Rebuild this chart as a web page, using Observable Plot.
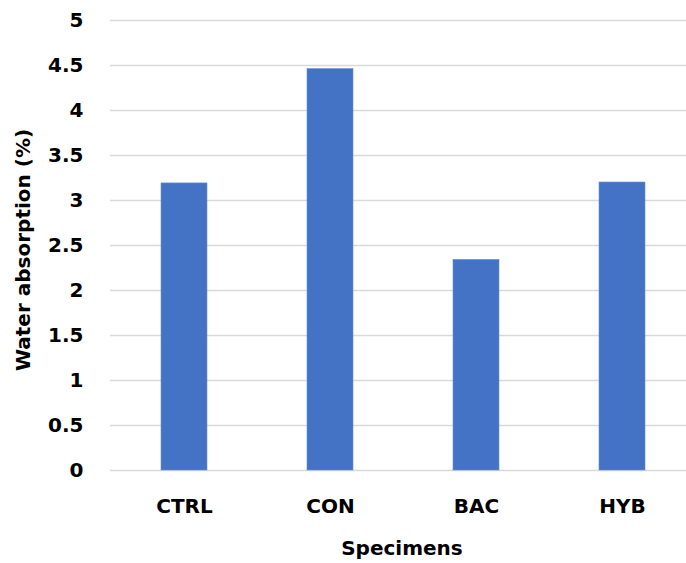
<!DOCTYPE html>
<html>
<head>
<meta charset="utf-8">
<script src="https://cdn.jsdelivr.net/npm/d3@7"></script>
<script src="https://cdn.jsdelivr.net/npm/@observablehq/plot@0.6"></script>
<style>
  html, body { margin: 0; padding: 0; background: #fff; }
  #chart svg { display: block; }
</style>
</head>
<body>
<div id="chart"></div>
<script>
const categories = ["CTRL", "CON", "BAC", "HYB"];
const values = [3.19, 4.46, 2.34, 3.20];
const yTicks = [0, 0.5, 1, 1.5, 2, 2.5, 3, 3.5, 4, 4.5, 5];
const yTickLabels = ["0", "0.5", "1", "1.5", "2", "2.5", "3", "3.5", "4", "4.5", "5"];
const xTitle = "Specimens";
const yTitle = "Water absorption (%)";

const data = categories.map((c, i) => ({specimen: c, value: values[i]}));

const W = 686, H = 563;
const FONT = "'DejaVu Sans', sans-serif";
const chart = Plot.plot({
  width: W,
  height: H,
  marginLeft: 110,
  marginRight: 0,
  marginTop: 20,
  marginBottom: 93,
  style: {fontFamily: FONT, fontWeight: "bold", color: "#000", background: "#fff"},
  x: {domain: categories, range: [110.5, 695.7], paddingInner: 0.685, paddingOuter: 0.3425, label: null},
  y: {domain: [0, 5], label: null},
  marks: [
    Plot.ruleY(yTicks, {stroke: "#d9d9d9", strokeWidth: 1.5, strokeOpacity: 1}),
    Plot.barY(data, {x: "specimen", y: "value", fill: "#4472C4", stroke: "#6a8fd4", strokeWidth: 0.6}),
    Plot.axisY(yTicks, {tickSize: 0, tickPadding: 27, fontSize: 20, fontWeight: "bold", label: null,
      tickFormat: (d) => yTickLabels[yTicks.indexOf(d)], fill: "#000"}),
    Plot.axisX({tickSize: 0, tickPadding: 28, fontSize: 20, fontWeight: "bold", label: null, fill: "#000"})
  ]
});
document.getElementById("chart").appendChild(chart);

const svg = d3.select(chart);
svg.append("text")
  .attr("x", 402).attr("y", 555)
  .attr("text-anchor", "middle")
  .attr("font-family", FONT)
  .attr("font-size", 20).attr("font-weight", "bold").attr("fill", "#000")
  .text(xTitle);
svg.append("text")
  .attr("transform", "translate(30,250) rotate(-90)")
  .attr("text-anchor", "middle")
  .attr("font-family", FONT)
  .attr("font-size", 20).attr("font-weight", "bold").attr("fill", "#000")
  .text(yTitle);
</script>
</body>
</html>
